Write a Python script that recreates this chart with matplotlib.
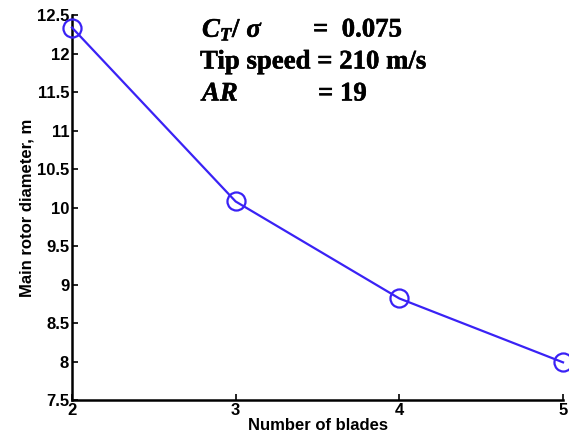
import matplotlib
matplotlib.use('Agg')
import matplotlib.pyplot as plt
import matplotlib.patheffects as pe

# data
blades = [2, 3, 4, 5]
diameter = [12.34, 10.08, 8.82, 7.99]
y_ticks = [7.5, 8, 8.5, 9, 9.5, 10, 10.5, 11, 11.5, 12, 12.5]
y_tick_labels = ['7.5', '8', '8.5', '9', '9.5', '10', '10.5', '11', '11.5', '12', '12.5']

plt.rcParams['font.family'] = ['Liberation Sans', 'DejaVu Sans']
plt.rcParams['font.weight'] = 'bold'
plt.rcParams['mathtext.fontset'] = 'custom'
plt.rcParams['mathtext.rm'] = 'Liberation Serif:bold'
plt.rcParams['mathtext.it'] = 'Liberation Serif:italic:bold'

fig = plt.figure(figsize=(5.69, 4.48), dpi=100)
ax = fig.add_axes([0.1265, 0.107, 0.863, 0.859])

ax.plot(blades, diameter, color='#3a22f5', linewidth=1.6, marker='o',
        markersize=13, markerfacecolor='none', markeredgewidth=1.6,
        clip_on=False, zorder=5)

ax.set_xlim(2, 5)
ax.set_ylim(7.5, 12.5)
ax.set_xticks(blades)
ax.set_yticks(y_ticks)
ax.set_yticklabels(y_tick_labels)
ax.tick_params(axis='both', direction='in', length=4, width=1.2, labelsize=12, pad=2)
for s in ['top', 'right']:
    ax.spines[s].set_visible(False)
for s in ['left', 'bottom']:
    ax.spines[s].set_linewidth(1.8)

ax.set_xlabel('Number of blades', fontsize=12, fontweight='bold', labelpad=0)
ax.set_ylabel('Main rotor diameter, m', fontsize=12, fontweight='bold', labelpad=2)

# slight stroke so the serif note reads as heavy as in the original
bold = [pe.withStroke(linewidth=0.35, foreground='black')]
serif = dict(fontfamily='Liberation Serif', fontweight='bold', fontsize=19.3,
             va='center', ha='left', path_effects=bold)
fig.text(202 / 569, 1 - 30 / 448, r'$C_T/\ \sigma$', **serif)
fig.text(313 / 569, 1 - 30 / 448, '=  0.075', **serif)
fig.text(200 / 569, 1 - 62 / 448, 'Tip speed = 210 m/s', **serif)
fig.text(202 / 569, 1 - 94 / 448, 'AR', fontstyle='italic', **serif)
fig.text(318 / 569, 1 - 94 / 448, '= 19', **serif)

fig.savefig('out.png', dpi=100)
